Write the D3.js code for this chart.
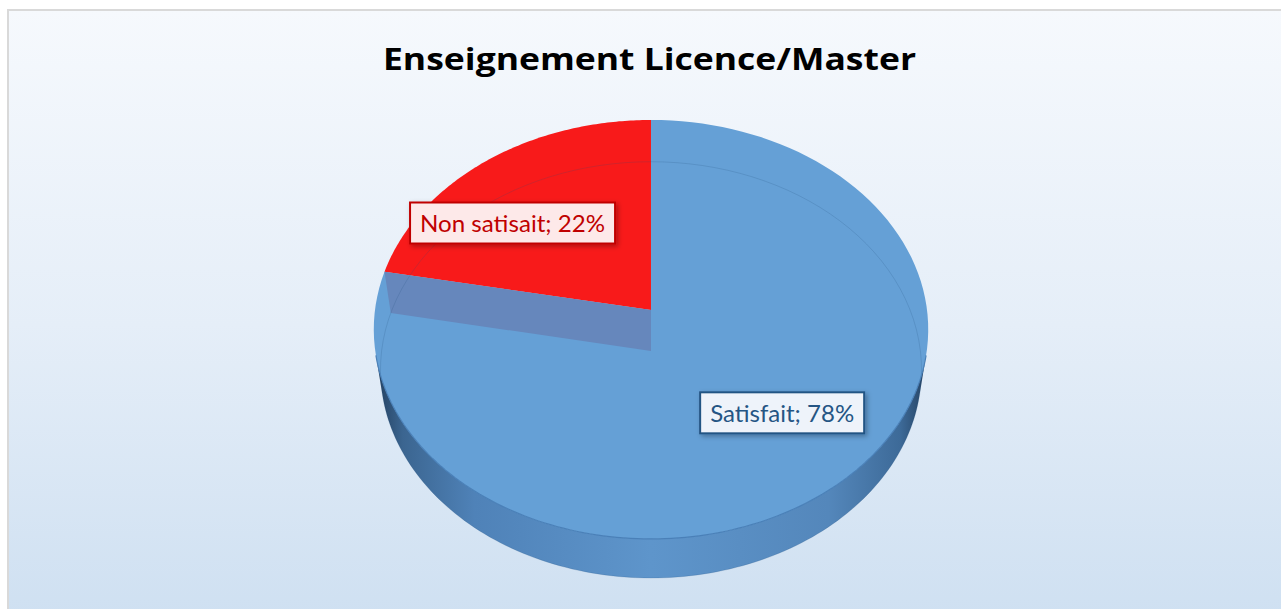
<!DOCTYPE html>
<html>
<head>
<meta charset="utf-8">
<script src="https://cdn.jsdelivr.net/npm/d3@7"></script>
<style>
  body { margin: 0; background: #fff; }
  svg { display: block; }
</style>
</head>
<body>
<svg></svg>
<script>
const categories = ['Satisfait', 'Non satisait'];
const values = [78, 22];
const sliceColors = ['#65a0d6', '#f81a1a'];
const title = 'Enseignement Licence/Master';

const width = 1281,
      height = 609;

// 3D pie camera (fitted to the reference)
const cx = 651, cy = 310,   // projected pie centre
      F = 1957,             // focal length
      D = 7.09,             // camera distance (pie radius = 1)
      sa = 0.7524,          // sin(elevation)
      ca = Math.sqrt(1 - sa * sa),
      H = 0.231;            // pie thickness

const svg = d3.select('svg')
  .attr('width', width)
  .attr('height', height);

const defs = svg.append('defs');

const bg = defs.append('linearGradient')
  .attr('id', 'bg')
  .attr('x1', 0).attr('y1', 0).attr('x2', 0).attr('y2', 1);
bg.append('stop').attr('offset', 0).attr('stop-color', '#f6f9fd');
bg.append('stop').attr('offset', 0.5).attr('stop-color', '#e5eef8');
bg.append('stop').attr('offset', 1).attr('stop-color', '#cddff1');

const side = defs.append('linearGradient')
  .attr('id', 'side')
  .attr('gradientUnits', 'userSpaceOnUse')
  .attr('x1', 375).attr('y1', 0).attr('x2', 928).attr('y2', 0);
[[0, '#233f5e'], [0.05, '#3b6590'], [0.18, '#4f82b8'], [0.5, '#5e95cb'],
 [0.82, '#5487bb'], [0.95, '#3d6a98'], [1, '#233f5e']].forEach(s => {
  side.append('stop').attr('offset', s[0]).attr('stop-color', s[1]);
});

const shadow = defs.append('filter').attr('id', 'shadow')
  .attr('x', '-20%').attr('y', '-40%').attr('width', '140%').attr('height', '180%');
shadow.append('feDropShadow')
  .attr('dx', 2).attr('dy', 2)
  .attr('stdDeviation', 2.5)
  .attr('flood-color', '#000')
  .attr('flood-opacity', 0.3);

// chart area
svg.append('rect')
  .attr('x', 8).attr('y', 10)
  .attr('width', width + 20).attr('height', height + 20)
  .attr('fill', 'url(#bg)')
  .attr('stroke', '#d9d9d9')
  .attr('stroke-width', 2);

svg.append('text')
  .attr('x', 649.5)
  .attr('y', 70)
  .attr('text-anchor', 'middle')
  .attr('font-family', '"Open Sans", Lato, sans-serif')
  .attr('font-weight', 'bold')
  .attr('font-size', 31)
  .attr('textLength', 533)
  .attr('lengthAdjust', 'spacingAndGlyphs')
  .attr('fill', '#000')
  .text(title);

function project(u, v, w) {
  const depth = D - v * ca - w * sa;
  const yup = -v * sa + w * ca;
  return [cx + F * u / depth, cy - F * yup / depth];
}
// angle a: 0 at 12 o'clock, clockwise (d3 convention)
const rim = (a, w, r = 1) => project(r * Math.sin(a), -r * Math.cos(a), w);

const line = d3.line();
const steps = a0 => a1 => d3.range(0, 121).map(i => a0 + (a1 - a0) * i / 120);

const arcs = d3.pie().sort(null)(values);
const total = d3.sum(values);
const pct = d3.format('.0%');

const pie = svg.append('g');

// front side wall (only the part facing the camera)
const kf = Math.acos(-1 / (D * ca));
const front = steps(kf)(2 * Math.PI - kf);
pie.append('path')
  .attr('d', line(front.map(a => rim(a, 0))
    .concat(front.slice().reverse().map(a => rim(a, -H)))) + 'Z')
  .attr('fill', 'url(#side)');

// top faces
pie.selectAll('path.top')
  .data(arcs)
  .enter().append('path')
  .attr('class', 'top')
  .attr('d', d => line([project(0, 0, 0)]
    .concat(steps(d.startAngle)(d.endAngle).map(a => rim(a, 0)))) + 'Z')
  .attr('fill', (d, i) => sliceColors[i]);

// radial wall of the big slice, seen at the small slice's edge
const cut = arcs[0].endAngle;
pie.append('path')
  .attr('d', line([project(0, 0, 0), rim(cut, 0), rim(cut, -H), project(0, 0, -H)]) + 'Z')
  .attr('fill', '#6687bc');

// faint outline of the bottom face showing through
pie.append('path')
  .attr('d', line(steps(0)(2 * Math.PI).map(a => rim(a, -H))) + 'Z')
  .attr('fill', 'none')
  .attr('stroke', '#1f4e79')
  .attr('stroke-opacity', 0.18)
  .attr('stroke-width', 1);

// front rim edge
pie.append('path')
  .attr('d', line(front.map(a => rim(a, 0))))
  .attr('fill', 'none')
  .attr('stroke', '#4a80b8')
  .attr('stroke-width', 1.2);

// data labels
const labelStyle = [
  { fill: '#eef3fa', stroke: '#245584', text: '#245584', nudge: [17, -1] },
  { fill: '#fde9e9', stroke: '#c00000', text: '#c00000', nudge: [-34, 8] }
];

const labels = svg.selectAll('g.label')
  .data(arcs)
  .enter().append('g')
  .attr('class', 'label')
  .attr('transform', (d, i) => {
    const p = rim((d.startAngle + d.endAngle) / 2, 0, 0.62);
    return 'translate(' + [p[0] + labelStyle[i].nudge[0], p[1] + labelStyle[i].nudge[1]] + ')';
  });

const texts = labels.append('text')
  .attr('text-anchor', 'middle')
  .attr('y', 9)
  .attr('font-family', 'Lato, "Open Sans", sans-serif')
  .attr('font-size', 23.5)
  .attr('fill', (d, i) => labelStyle[i].text)
  .text((d, i) => categories[i] + '; ' + pct(d.value / total));

const textLen = [144, 185];
texts.attr('textLength', (d, i) => textLen[i])
  .attr('lengthAdjust', 'spacingAndGlyphs');

labels.insert('rect', 'text')
  .attr('x', (d, i) => -textLen[i] / 2 - 10)
  .attr('y', -20.5)
  .attr('width', (d, i) => textLen[i] + 20)
  .attr('height', 41)
  .attr('fill', (d, i) => labelStyle[i].fill)
  .attr('stroke', (d, i) => labelStyle[i].stroke)
  .attr('stroke-width', 2)
  .attr('filter', 'url(#shadow)');
</script>
</body>
</html>
